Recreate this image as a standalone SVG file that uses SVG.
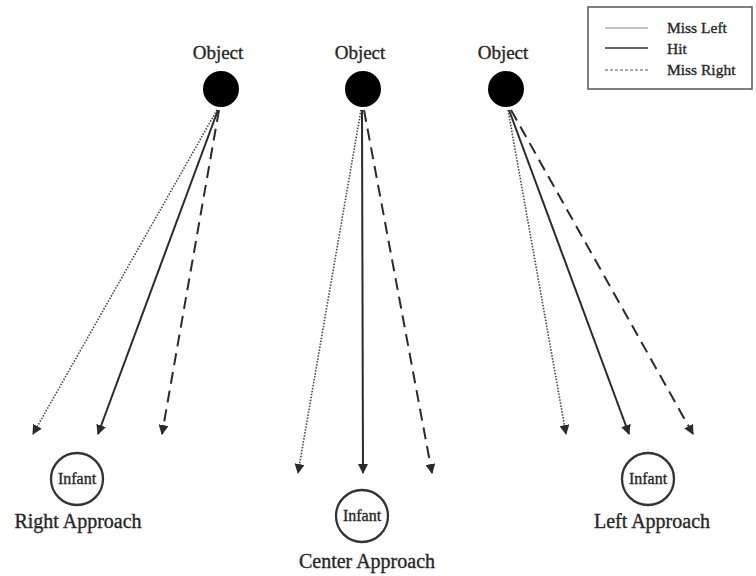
<svg xmlns="http://www.w3.org/2000/svg" width="756" height="576" viewBox="0 0 756 576">
<style>
.lbl{font-family:"Liberation Serif","Times New Roman",serif;fill:#262626;stroke:#262626;stroke-width:0.35}
.obj{fill:#000}
.inf{fill:#fff;stroke:#333;stroke-width:2.3}
.hit{stroke:#2a2a2a;stroke-width:2;fill:none}
.dot{stroke:#444;stroke-width:1.6;stroke-dasharray:1.5 1.5;fill:none}
.dash{stroke:#2a2a2a;stroke-width:2;stroke-dasharray:12 7;fill:none}
</style>
<defs>
<marker id="ah" viewBox="0 0 10 10" refX="9" refY="5" markerWidth="10" markerHeight="10" markerUnits="userSpaceOnUse" orient="auto">
<path d="M0,0 L10,5 L0,10 z" fill="#2a2a2a"/>
</marker>
</defs>
<rect width="756" height="576" fill="#fff"/>

<g id="legend">
<rect x="588" y="7" width="164" height="82" fill="#fff" stroke="#555" stroke-width="1.5"/>
<line x1="605" y1="28" x2="648" y2="28" stroke="#888" stroke-width="1"/>
<line x1="605" y1="48" x2="648" y2="48" stroke="#333" stroke-width="1.5"/>
<line x1="605" y1="70" x2="648" y2="70" stroke="#555" stroke-width="1" stroke-dasharray="3 2"/>
<text class="lbl" x="667" y="33" font-size="15.5">Miss Left</text>
<text class="lbl" x="667" y="54" font-size="15.5">Hit</text>
<text class="lbl" x="667" y="75" font-size="15.5">Miss Right</text>
</g>

<g id="object-left">
<text class="lbl" x="218" y="59" font-size="19" text-anchor="middle">Object</text>
<circle class="obj" cx="221" cy="89" r="18"/>
</g>
<g id="object-center">
<text class="lbl" x="360" y="59" font-size="19" text-anchor="middle">Object</text>
<circle class="obj" cx="363" cy="89" r="18"/>
</g>
<g id="object-right">
<text class="lbl" x="503" y="59" font-size="19" text-anchor="middle">Object</text>
<circle class="obj" cx="506" cy="89" r="18"/>
</g>

<g id="connectors">
<line class="dot" x1="217" y1="110" x2="33" y2="434" marker-end="url(#ah)"/>
<line class="hit" x1="218" y1="110" x2="98" y2="434" marker-end="url(#ah)"/>
<line class="dash" x1="219" y1="110" x2="162" y2="434" marker-end="url(#ah)"/>

<line class="dot" x1="361" y1="110" x2="298" y2="473" marker-end="url(#ah)"/>
<line class="hit" x1="362" y1="110" x2="363" y2="473" marker-end="url(#ah)"/>
<line class="dash" x1="364" y1="110" x2="432" y2="473" marker-end="url(#ah)"/>

<line class="dot" x1="508" y1="110" x2="566" y2="434" marker-end="url(#ah)"/>
<line class="hit" x1="509" y1="110" x2="629" y2="434" marker-end="url(#ah)"/>
<line class="dash" x1="511" y1="110" x2="693" y2="434" marker-end="url(#ah)"/>
</g>

<g id="infant-right-approach">
<circle class="inf" cx="77" cy="479" r="26"/>
<text class="lbl" x="77" y="484" font-size="16" text-anchor="middle">Infant</text>
<text class="lbl" x="78" y="528" font-size="20" text-anchor="middle">Right Approach</text>
</g>
<g id="infant-center-approach">
<circle class="inf" cx="362" cy="516" r="26"/>
<text class="lbl" x="362" y="521" font-size="16" text-anchor="middle">Infant</text>
<text class="lbl" x="367" y="568" font-size="20" text-anchor="middle">Center Approach</text>
</g>
<g id="infant-left-approach">
<circle class="inf" cx="648" cy="479" r="26"/>
<text class="lbl" x="648" y="484" font-size="16" text-anchor="middle">Infant</text>
<text class="lbl" x="652" y="528" font-size="20" text-anchor="middle">Left Approach</text>
</g>
</svg>
